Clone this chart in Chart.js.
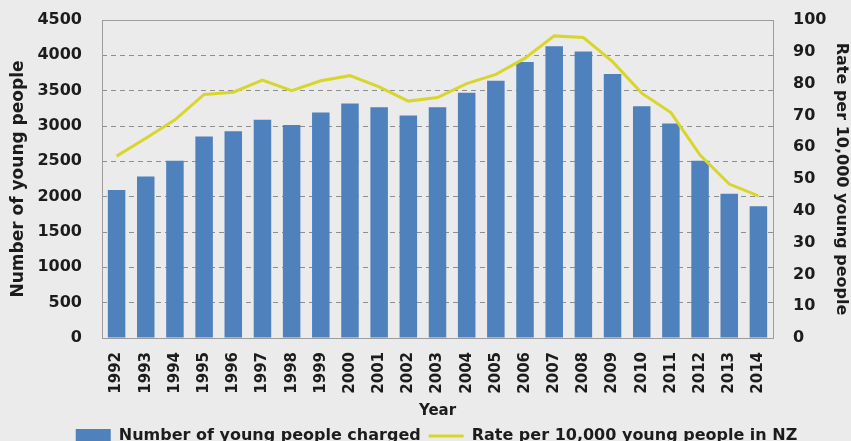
<!DOCTYPE html>
<html>
<head>
<meta charset="utf-8">
<script src="https://cdn.jsdelivr.net/npm/chart.js@4.4.1/dist/chart.umd.min.js"></script>
<style>
  html, body { margin: 0; padding: 0; background: #ebebeb; overflow: hidden; width: 851px; height: 441px; }
  #wrap { width: 851px; height: 460px; position: relative; }
</style>
</head>
<body>
<div id="wrap"><canvas id="chart"></canvas></div>
<script>
// Data
const years = ['1992', '1993', '1994', '1995', '1996', '1997', '1998', '1999', '2000', '2001', '2002', '2003',
               '2004', '2005', '2006', '2007', '2008', '2009', '2010', '2011', '2012', '2013', '2014'];
const charged = [2095, 2285, 2510, 2850, 2925, 3090, 3015, 3190, 3320, 3265, 3150, 3265,
                 3470, 3640, 3905, 4130, 4055, 3735, 3280, 3035, 2510, 2040, 1865];
const ratePer10k = [57.2, 62.8, 68.6, 76.6, 77.3, 81.1, 77.8, 80.9, 82.5, 79.0, 74.5, 75.6,
                    80.0, 82.9, 88.0, 95.0, 94.5, 86.9, 77.0, 70.9, 57.5, 48.4, 44.7];
const leftTicks = [0, 500, 1000, 1500, 2000, 2500, 3000, 3500, 4000, 4500];
const rightTicks = [0, 10, 20, 30, 40, 50, 60, 70, 80, 90, 100];

const textColor = '#1c1c1c';
const fontFamily = '"DejaVu Sans", sans-serif';

// Plot frame
const frame = {
    id: 'frame',
    afterDatasetsDraw(chart) {
        const a = chart.chartArea;
        const ctx = chart.ctx;
        ctx.save();
        ctx.strokeStyle = '#9c9c9c';
        ctx.lineWidth = 1;
        ctx.strokeRect(Math.round(a.left) + 0.5, Math.round(a.top) + 0.5,
                       Math.round(a.right - a.left), Math.round(a.bottom - a.top));
        ctx.restore();
    }
};

// fixed axis sizes so the plot box lands where it is in the original
function fitY(width) {
    return function(scale) {
        scale.width = width;
        scale.paddingTop = 10;
        scale.paddingBottom = 10;
    };
}

const ctx = document.getElementById('chart').getContext('2d');
new Chart(ctx, {
    type: 'bar',
    data: {
        labels: years,
        datasets: [{
            type: 'bar',
            label: 'Number of young people charged',
            data: charged,
            backgroundColor: '#4f81bd',
            borderWidth: 0,
            barPercentage: 0.6,
            categoryPercentage: 1.0,
            yAxisID: 'y',
            order: 2
        }, {
            type: 'line',
            label: 'Rate per 10,000 young people in NZ',
            data: ratePer10k,
            borderColor: '#d8d62c',
            backgroundColor: '#d8d62c',
            borderWidth: 3,
            pointRadius: 0,
            tension: 0,
            yAxisID: 'y1',
            order: 1
        }]
    },
    options: {
        responsive: true,
        maintainAspectRatio: false,
        animation: false,
        layout: { padding: { top: 20, left: 22, right: 0, bottom: 6 } },
        plugins: {
            tooltip: { enabled: false },
            legend: {
                position: 'bottom',
                labels: {
                    color: textColor,
                    font: { family: fontFamily, size: 16, weight: 'bold' },
                    usePointStyle: true,
                    pointStyleWidth: 35,
                    boxHeight: 14,
                    padding: 8,
                    sort: (a, b) => a.datasetIndex - b.datasetIndex,
                    generateLabels: function(chart) {
                        const items = Chart.defaults.plugins.legend.labels.generateLabels(chart);
                        items.forEach(item => {
                            if (item.datasetIndex === 0) {
                                item.pointStyle = 'rect';
                                item.lineWidth = 0;
                            } else {
                                item.pointStyle = 'line';
                                item.lineWidth = 3;
                            }
                        });
                        return items;
                    }
                }
            }
        },
        scales: {
            x: {
                grid: { display: false, drawTicks: false },
                border: { display: false },
                ticks: {
                    color: textColor,
                    font: { family: fontFamily, size: 15, weight: 'bold' },
                    minRotation: 90,
                    maxRotation: 90,
                    padding: 14,
                    autoSkip: false
                },
                title: {
                    display: true,
                    text: 'Year',
                    color: textColor,
                    font: { family: fontFamily, size: 15, weight: 'bold' },
                    padding: { top: 0, bottom: 0 }
                },
                afterFit: function(scale) { scale.height = 82; }
            },
            y: {
                position: 'left',
                min: 0,
                max: 4500,
                afterBuildTicks: function(scale) { scale.ticks = leftTicks.map(v => ({ value: v })); },
                grid: {
                    drawTicks: false,
                    lineWidth: 1,
                    color: c => (c.tick && (c.tick.value === 0 || c.tick.value === 4500)) ? 'rgba(0,0,0,0)' : '#8e8e8e'
                },
                border: { display: false, dash: [5, 4] },
                ticks: {
                    color: textColor,
                    font: { family: fontFamily, size: 16, weight: 'bold' },
                    padding: 20,
                    callback: v => String(v)
                },
                title: {
                    display: true,
                    text: 'Number of young people',
                    color: textColor,
                    font: { family: fontFamily, size: 17, weight: 'bold' },
                    padding: { top: -14, bottom: 0 }
                },
                afterFit: fitY(80)
            },
            y1: {
                position: 'right',
                min: 0,
                max: 100,
                afterBuildTicks: function(scale) { scale.ticks = rightTicks.map(v => ({ value: v })); },
                grid: { drawOnChartArea: false, drawTicks: false },
                border: { display: false },
                ticks: {
                    color: textColor,
                    font: { family: fontFamily, size: 16, weight: 'bold' },
                    padding: 20,
                    callback: v => String(v)
                },
                title: {
                    display: true,
                    text: 'Rate per 10,000 young people',
                    color: textColor,
                    font: { family: fontFamily, size: 16, weight: 'bold' },
                    padding: { top: 0, bottom: 0 }
                },
                afterFit: fitY(78)
            }
        }
    },
    plugins: [frame]
});
</script>
</body>
</html>
